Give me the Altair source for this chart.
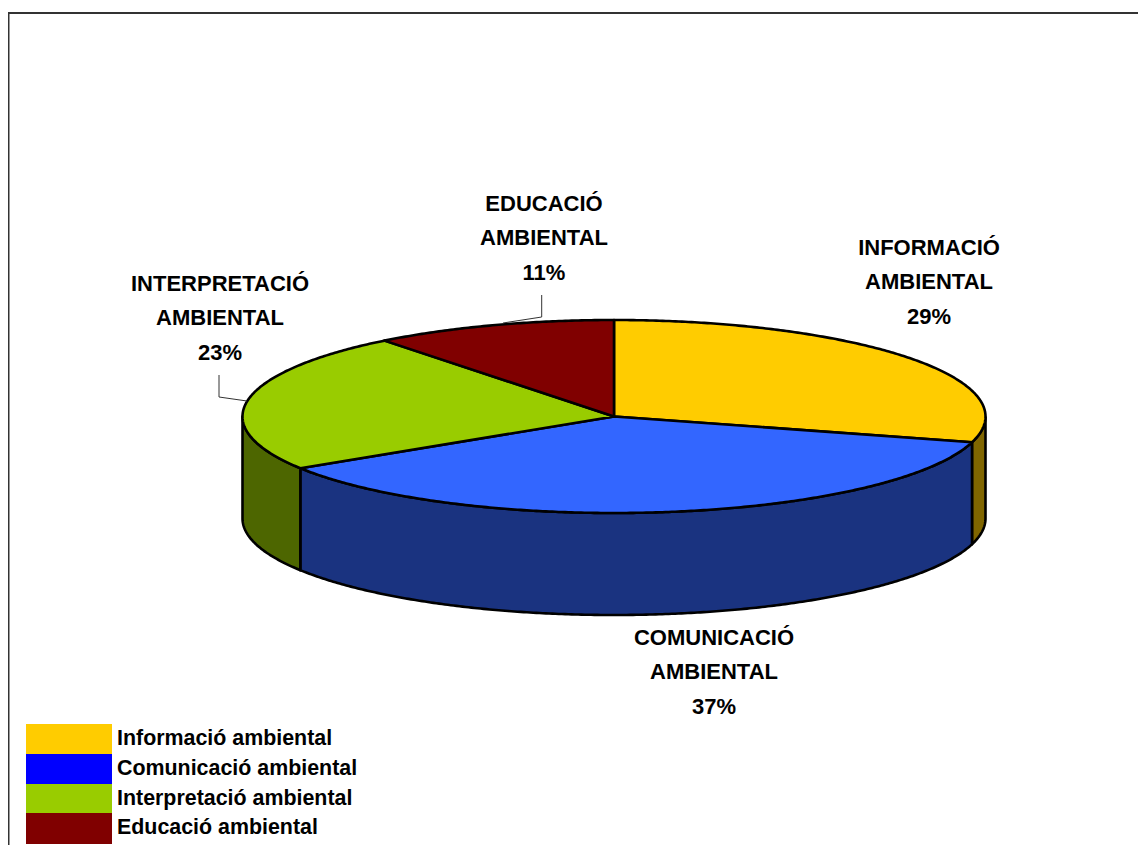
import numpy as np
import pandas as pd
import altair as alt

# --- data ---
categories = ["Informació ambiental", "Comunicació ambiental", "Interpretació ambiental", "Educació ambiental"]
upper_names = [["INFORMACIÓ", "AMBIENTAL"], ["COMUNICACIÓ", "AMBIENTAL"], ["INTERPRETACIÓ", "AMBIENTAL"], ["EDUCACIÓ", "AMBIENTAL"]]
shares = [29.3, 36.7, 23.4, 10.6]
share_labels = ["29%", "37%", "23%", "11%"]

# --- styles ---
top_colors = ["#FFCC00", "#3366FF", "#99CC00", "#800000"]
wall_colors = ["#806600", "#1A3380", "#4D6600", "#400000"]
legend_colors = ["#FFCC00", "#0000FF", "#99CC00", "#800000"]

# --- layout (page pixels) ---
W, H = 1130, 838
CX, CY, RX, RY, DEPTH = 614, 416.5, 371.5, 96.5, 102
label_centres = [(929, 248), (714, 638), (220, 284), (544, 204)]
LINE_STEP = 34.3
swatch_edges = [724, 754, 784, 813, 844]
legend_text_y = [739, 769, 799, 828]

xs = alt.Scale(domain=[8, 8 + W], range=[0, W], nice=False, zero=False)
ys = alt.Scale(domain=[8, 8 + H], range=[0, H], nice=False, zero=False)
X = lambda f="x": alt.X(f"{f}:Q", scale=xs, axis=None)
Y = lambda f="y": alt.Y(f"{f}:Q", scale=ys, axis=None)


def rim(a0, a1, dy=0.0):
    t = np.radians(np.linspace(a0, a1, max(2, int(abs(a1 - a0) * 2) + 1)))
    return CX + RX * np.sin(t), CY - RY * np.cos(t) + dy


def polygon(px, py, fill, sw=2.6):
    df = pd.DataFrame({"x": px, "y": py, "i": np.arange(len(px))})
    return alt.Chart(df).mark_line(fill=fill, stroke="#000000", strokeWidth=sw, strokeJoin="round", interpolate="linear").encode(
        x=X(), y=Y(), order="i:Q")


def polyline(px, py, color="#333333", sw=1):
    df = pd.DataFrame({"x": px, "y": py, "i": np.arange(len(px))})
    return alt.Chart(df).mark_line(stroke=color, strokeWidth=sw).encode(x=X(), y=Y(), order="i:Q")


edges = np.concatenate([[0], np.cumsum(shares)]) * 3.6
layers = []

# walls of the front half
for k in range(len(shares)):
    a0, a1 = max(edges[k], 90), min(edges[k + 1], 270)
    if a1 > a0:
        ux, uy = rim(a0, a1)
        lx, ly = rim(a0, a1, DEPTH)
        px = np.concatenate([ux, lx[::-1], ux[:1]])
        py = np.concatenate([uy, ly[::-1], uy[:1]])
        layers.append(polygon(px, py, wall_colors[k]))

# top surface
for k in range(len(shares)):
    ux, uy = rim(edges[k], edges[k + 1])
    px = np.concatenate([[CX], ux, [CX]])
    py = np.concatenate([[CY], uy, [CY]])
    layers.append(polygon(px, py, top_colors[k]))

# leader lines
layers.append(polyline([541.7, 541.7, 503], [295, 317, 323]))
layers.append(polyline([219, 219, 247], [375, 397, 401]))

# frame
layers.append(polyline([8.5, 8.5, 1146], [845, 13, 13], sw=2))

# data labels
rows = []
for k, (cx, cy) in enumerate(label_centres):
    lines = upper_names[k] + [share_labels[k]]
    for j, s in enumerate(lines):
        rows.append({"x": cx, "y": cy + j * LINE_STEP, "t": s})
layers.append(alt.Chart(pd.DataFrame(rows)).mark_text(
    font="Liberation Sans", fontWeight="bold", fontSize=22, color="#000000",
    align="center", baseline="middle").encode(x=X(), y=Y(), text="t:N"))

# legend
leg = pd.DataFrame({
    "x": [26] * 4, "x2": [112] * 4, "y": swatch_edges[:-1], "y2": swatch_edges[1:],
    "c": legend_colors, "t": categories, "tx": [117] * 4, "ty": legend_text_y})
layers.append(alt.Chart(leg).mark_rect(strokeWidth=0).encode(
    x=X(), x2="x2:Q", y=Y(), y2="y2:Q", fill=alt.Fill("c:N", scale=None)))
layers.append(alt.Chart(leg).mark_text(
    font="Liberation Sans", fontWeight="bold", fontSize=21.4, color="#000000",
    align="left", baseline="middle").encode(x=X("tx"), y=Y("ty"), text="t:N"))

chart = alt.layer(*layers).properties(
    width=W, height=H, padding=0, autosize=alt.AutoSizeParams(type="none"), background="#ffffff"
).configure_view(stroke=None)

chart.save("out.html", embed_options={"renderer": "svg", "actions": False})
